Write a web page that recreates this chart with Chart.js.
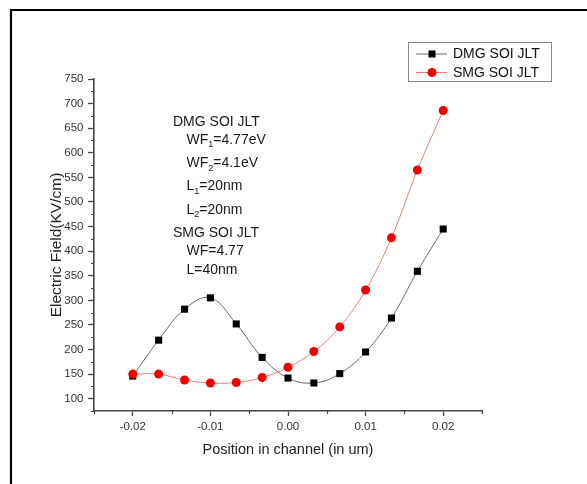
<!DOCTYPE html>
<html>
<head>
<meta charset="utf-8">
<title>Electric Field along the channel</title>
<script src="https://cdn.jsdelivr.net/npm/chart.js@4.4.1/dist/chart.umd.min.js"></script>
<style>
    html, body { margin: 0; padding: 0; background: #ffffff; }
    #fieldChart { display: block; }
</style>
</head>
<body>
<canvas id="fieldChart" width="587" height="484"></canvas>
<script>
// position along the channel (um)
var positions = [-0.02, -0.01667, -0.01333, -0.01, -0.00667, -0.00333, 0,
    0.00333, 0.00667, 0.01, 0.01333, 0.01667, 0.02];
// electric field (KV/cm)
var dmgField = [146, 219, 282, 305, 252, 184, 142, 132, 151, 195, 264, 359, 445];
var smgField = [150, 150, 138, 132, 133, 143, 164, 196, 246, 321, 427, 565, 686];
var seriesNames = ['DMG SOI JLT', 'SMG SOI JLT'];

var xTickValues = [-0.02, -0.01, 0, 0.01, 0.02];
var yTickValues = [100, 150, 200, 250, 300, 350, 400, 450, 500, 550, 600, 650, 700, 750];

// device parameters, "_" marks a subscript
var noteLines = ['DMG SOI JLT', 'WF_1=4.77eV', 'WF_2=4.1eV', 'L_1=20nm', 'L_2=20nm',
    'SMG SOI JLT', 'WF=4.77', 'L=40nm'];

var FONT = '"Liberation Sans", Arial, Helvetica, sans-serif';
var AXIS_COLOR = '#444444';

document.addEventListener('DOMContentLoaded', function () {
    makeFieldChart();
});

function toPoints(values) {
    return values.map(function (v, i) {
        return { x: positions[i], y: v };
    });
}

// outer frame, only its top and left edges are inside the canvas
var framePlugin = {
    id: 'frameLines',
    afterDraw: function (chart) {
        var ctx = chart.ctx;
        ctx.save();
        ctx.strokeStyle = '#000000';
        ctx.lineWidth = 2.2;
        ctx.beginPath();
        ctx.moveTo(11, chart.height);
        ctx.lineTo(11, 10);
        ctx.lineTo(chart.width, 10);
        ctx.stroke();
        ctx.restore();
    }
};

// short ticks between the labelled ones
var minorTickPlugin = {
    id: 'minorTicks',
    afterDraw: function (chart) {
        var ctx = chart.ctx;
        var xs = chart.scales.x;
        var ys = chart.scales.y;
        var area = chart.chartArea;
        ctx.save();
        ctx.strokeStyle = AXIS_COLOR;
        ctx.lineWidth = 1.2;
        ctx.beginPath();
        for (var v = 75; v < 750; v += 50) {
            var py = Math.round(ys.getPixelForValue(v)) + 0.5;
            ctx.moveTo(area.left, py);
            ctx.lineTo(area.left - 3, py);
        }
        for (var k = -5; k <= 5; k += 2) {
            var px = Math.round(xs.getPixelForValue(k * 0.005)) + 0.5;
            ctx.moveTo(px, area.bottom);
            ctx.lineTo(px, area.bottom + 3);
        }
        ctx.stroke();
        ctx.restore();
    }
};

function drawMarker(ctx, ds, x, y) {
    ctx.fillStyle = ds.pointBackgroundColor;
    ctx.beginPath();
    if (ds.pointStyle === 'rect') {
        var s = ds.pointRadius * Math.SQRT1_2;
        ctx.rect(x - s, y - s, 2 * s, 2 * s);
    } else {
        ctx.arc(x, y, ds.pointRadius, 0, Math.PI * 2);
    }
    ctx.fill();
}

// boxed legend in the top right corner
var boxLegendPlugin = {
    id: 'boxLegend',
    afterDraw: function (chart) {
        var ctx = chart.ctx;
        var left = 408.5, top = 42.5, w = 143, h = 39;
        ctx.save();
        ctx.strokeStyle = '#8a8a8a';
        ctx.lineWidth = 1;
        ctx.strokeRect(left, top, w, h);
        ctx.font = '14px ' + FONT;
        ctx.textBaseline = 'middle';
        chart.data.datasets.forEach(function (ds, i) {
            var y = 54 + i * 18.5;
            ctx.strokeStyle = ds.borderColor;
            ctx.lineWidth = ds.borderWidth;
            ctx.beginPath();
            ctx.moveTo(416, y);
            ctx.lineTo(447, y);
            ctx.stroke();
            drawMarker(ctx, ds, 432, y);
            ctx.fillStyle = '#111111';
            ctx.fillText(ds.label, 453, y + 0.5);
        });
        ctx.restore();
    }
};

// parameter notes inside the plot
var notesPlugin = {
    id: 'notes',
    afterDraw: function (chart) {
        var ctx = chart.ctx;
        var y = 121.7;
        var prevSub = false;
        ctx.save();
        ctx.fillStyle = '#1a1a1a';
        ctx.textBaseline = 'middle';
        noteLines.forEach(function (line, i) {
            var hasSub = line.indexOf('_') >= 0;
            if (i > 0) {
                y += prevSub ? 23.3 : 18.3;
            }
            var x = line.indexOf('JLT') >= 0 ? 173 : 186.5;
            if (hasSub) {
                var head = line.split('_')[0];
                var sub = line.split('_')[1].charAt(0);
                var rest = line.split('_')[1].substring(1);
                ctx.font = '14px ' + FONT;
                ctx.fillText(head, x, y);
                x += ctx.measureText(head).width;
                ctx.font = '9px ' + FONT;
                ctx.fillText(sub, x, y + 5);
                x += ctx.measureText(sub).width;
                ctx.font = '14px ' + FONT;
                ctx.fillText(rest, x, y);
            } else {
                ctx.font = '14px ' + FONT;
                ctx.fillText(line, x, y);
            }
            prevSub = hasSub;
        });
        ctx.restore();
    }
};

function makeFieldChart() {
    var canvas = document.getElementById('fieldChart');
    var tickFont = { family: FONT, size: 11.5 };

    new Chart(canvas, {
        type: 'scatter',
        data: {
            datasets: [
                {
                    label: seriesNames[0],
                    data: toPoints(dmgField),
                    showLine: true,
                    tension: 0.4,
                    borderColor: '#6a6a6a',
                    borderWidth: 1,
                    pointStyle: 'rect',
                    pointRadius: 5,
                    pointBackgroundColor: '#000000',
                    pointBorderWidth: 0,
                    order: 1
                },
                {
                    label: seriesNames[1],
                    data: toPoints(smgField),
                    showLine: true,
                    tension: 0.4,
                    borderColor: '#f07a7a',
                    borderWidth: 1,
                    pointStyle: 'circle',
                    pointRadius: 4.5,
                    pointBackgroundColor: '#ee0000',
                    pointBorderWidth: 0,
                    order: 0
                }
            ]
        },
        options: {
            responsive: false,
            animation: false,
            devicePixelRatio: 1,
            layout: { padding: { top: 79, right: 105, bottom: 0, left: 0 } },
            plugins: {
                legend: { display: false },
                tooltip: { enabled: false }
            },
            scales: {
                x: {
                    type: 'linear',
                    min: -0.025,
                    max: 0.025,
                    afterBuildTicks: function (scale) {
                        scale.ticks = xTickValues.map(function (v) { return { value: v }; });
                    },
                    afterFit: function (scale) {
                        scale.height = 73;
                    },
                    grid: {
                        drawOnChartArea: false,
                        tickLength: 5,
                        tickWidth: 1.3,
                        tickColor: AXIS_COLOR
                    },
                    border: { color: AXIS_COLOR, width: 1.6 },
                    ticks: {
                        font: tickFont,
                        color: '#333333',
                        padding: 4,
                        maxRotation: 0,
                        callback: function (value) {
                            return value.toFixed(2);
                        }
                    },
                    title: {
                        display: true,
                        text: 'Position in channel (in um)',
                        font: { family: FONT, size: 14.5 },
                        color: '#222222',
                        padding: { top: 0, bottom: 25 }
                    }
                },
                y: {
                    type: 'linear',
                    min: 75,
                    max: 750,
                    afterBuildTicks: function (scale) {
                        scale.ticks = yTickValues.map(function (v) { return { value: v }; });
                    },
                    afterFit: function (scale) {
                        scale.width = 94;
                    },
                    grid: {
                        drawOnChartArea: false,
                        tickLength: 6,
                        tickWidth: 1.3,
                        tickColor: AXIS_COLOR
                    },
                    border: { color: AXIS_COLOR, width: 1.6 },
                    ticks: {
                        font: tickFont,
                        color: '#333333',
                        padding: 4.5,
                        callback: function (value) {
                            return String(value);
                        }
                    },
                    title: {
                        display: true,
                        text: 'Electric Field(KV/cm)',
                        font: { family: FONT, size: 15.5 },
                        color: '#222222',
                        padding: { top: 47, bottom: 0 }
                    }
                }
            }
        },
        plugins: [framePlugin, minorTickPlugin, boxLegendPlugin, notesPlugin]
    });
}
</script>
</body>
</html>
